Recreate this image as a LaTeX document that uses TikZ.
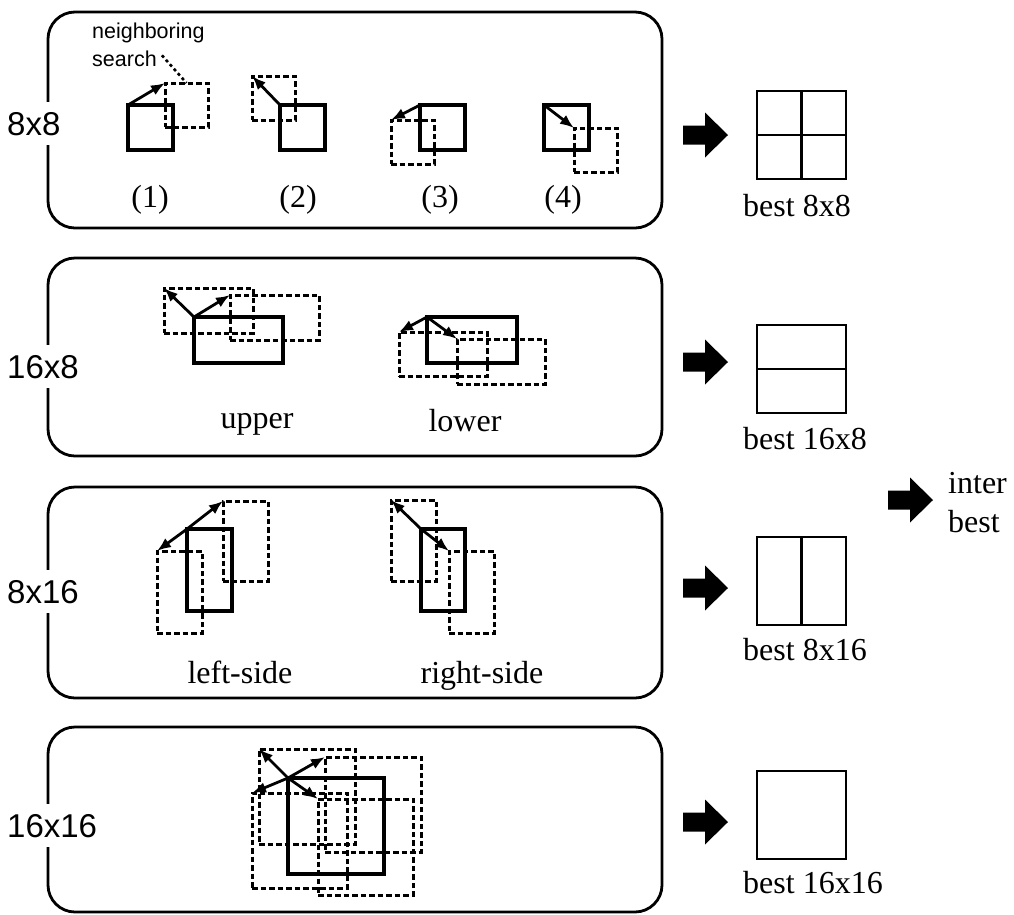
\documentclass[tikz,border=0pt]{standalone}
\usepackage{fontspec}
\setmainfont{Liberation Serif}
\setsansfont{Liberation Sans}
\usetikzlibrary{arrows.meta}

\tikzset{
  panel/.style={draw, line width=2.8pt, rounded corners=27pt},
  blk/.style={draw, line width=4.6pt, inner sep=0pt, outer sep=0pt, anchor=north west},
  cand/.style={draw, line width=3pt, dash pattern=on 5.5pt off 3pt, inner sep=0pt, outer sep=0pt, anchor=north west},
  mv/.style={line width=2.8pt, -{Latex[length=14pt,width=11pt]}},
  leader/.style={line width=2.6pt, dash pattern=on 3pt off 3pt},
  bestbox/.style={draw, line width=2.8pt, inner sep=0pt, outer sep=0pt, anchor=north west, minimum width=89pt, minimum height=88pt},
  split/.style={line width=2.8pt},
  sizelbl/.style={font=\sffamily\fontsize{33}{38}\selectfont, fill=white, inner xsep=2pt, inner ysep=10pt, anchor=base west},
  smalllbl/.style={font=\sffamily\fontsize{21.5}{26}\selectfont, inner sep=0pt, anchor=base west},
  caption/.style={font=\fontsize{32}{38}\selectfont, inner sep=0pt, anchor=base},
  bestlbl/.style={font=\fontsize{32}{38}\selectfont, inner sep=0pt, anchor=base west},
  fat/.pic={\fill (0,-9.5) -- (22,-9.5) -- (22,-22.5) -- (45,0) -- (22,22.5) -- (22,9.5) -- (0,9.5) -- cycle;}
}

\begin{document}
\begin{tikzpicture}[x=1pt,y=-1pt]
\useasboundingbox (0,0) rectangle (1014,914);

% ---------- panel frames ----------
\draw[panel] (48,12) rectangle (662,228);
\draw[panel] (48,258) rectangle (662,456);
\draw[panel] (48,487) rectangle (662,698);
\draw[panel] (48,727) rectangle (662,912);

% ---------- block size labels ----------
\node[sizelbl] (l88)   at (5,135) {8x8};
\node[sizelbl] (l168)  at (5,378) {16x8};
\node[sizelbl] (l816)  at (5,603) {8x16};
\node[sizelbl] (l1616) at (5,837) {16x16};

% ---------- 8x8: four neighbouring searches ----------
\node[cand, minimum width=43pt, minimum height=44pt] (d1) at (165,83) {};
\node[cand, minimum width=43pt, minimum height=44pt] (d2) at (252,76) {};
\node[cand, minimum width=43pt, minimum height=44pt] (d3) at (391,120) {};
\node[cand, minimum width=43pt, minimum height=44pt] (d4) at (574,128) {};
\node[blk, minimum width=45pt, minimum height=45pt] (s1) at (128,105) {};
\node[blk, minimum width=45pt, minimum height=45pt] (s2) at (280,105) {};
\node[blk, minimum width=45pt, minimum height=45pt] (s3) at (420,105) {};
\node[blk, minimum width=45pt, minimum height=45pt] (s4) at (544,105) {};
\draw[mv] (s1.north west) -- (d1.north west);
\draw[mv] (s2.north west) -- (d2.north west);
\draw[mv] (s3.north west) -- (d3.north west);
\draw[mv] (s4.north west) -- (d4.north west);

\node[smalllbl] (ns1) at (92,38) {neighboring};
\node[smalllbl] (ns2) at (92,66) {search};
\draw[leader] ([xshift=5pt,yshift=3pt]ns2.east) -- (d1.north);

\node[caption] (c1) at (150,207) {(1)};
\node[caption] (c2) at (298,207) {(2)};
\node[caption] (c3) at (440,207) {(3)};
\node[caption] (c4) at (563,207) {(4)};

% ---------- 16x8: upper / lower ----------
\node[cand, minimum width=89pt, minimum height=45pt] (d5a) at (164,288) {};
\node[cand, minimum width=89pt, minimum height=45pt] (d5b) at (230,295) {};
\node[blk, minimum width=89pt, minimum height=46pt] (s5) at (194,317) {};
\draw[mv] (s5.north west) -- (d5a.north west);
\draw[mv] (s5.north west) -- (d5b.north west);

\node[cand, minimum width=88pt, minimum height=44pt] (d6a) at (399,332) {};
\node[cand, minimum width=88pt, minimum height=45pt] (d6b) at (457,339) {};
\node[blk, minimum width=90pt, minimum height=46pt] (s6) at (427,317) {};
\draw[mv] (s6.north west) -- (d6a.north west);
\draw[mv] (s6.north west) -- (d6b.north west);

\node[caption] (cu) at (257,428) {upper};
\node[caption] (cl) at (465,431) {lower};

% ---------- 8x16: left-side / right-side ----------
\node[cand, minimum width=45pt, minimum height=82pt] (d7a) at (157,551) {};
\node[cand, minimum width=45pt, minimum height=80pt] (d7b) at (223,501) {};
\node[blk, minimum width=45pt, minimum height=82pt] (s7) at (187,529) {};
\draw[mv] (s7.north west) -- (d7a.north west);
\draw[mv] (s7.north west) -- (d7b.north west);

\node[cand, minimum width=45pt, minimum height=81pt] (d8a) at (391,500) {};
\node[cand, minimum width=45pt, minimum height=82pt] (d8b) at (449,551) {};
\node[blk, minimum width=44pt, minimum height=82pt] (s8) at (421,529) {};
\draw[mv] (s8.north west) -- (d8a.north west);
\draw[mv] (s8.north west) -- (d8b.north west);

\node[caption] (cls) at (240,683) {left-side};
\node[caption] (crs) at (482,683) {right-side};

% ---------- 16x16 ----------
\node[cand, minimum width=96pt, minimum height=95pt] (d9a) at (259,749) {};
\node[cand, minimum width=96pt, minimum height=95pt] (d9b) at (325,757) {};
\node[cand, minimum width=95pt, minimum height=95pt] (d9c) at (252,793) {};
\node[cand, minimum width=95pt, minimum height=96pt] (d9d) at (318,799) {};
\node[blk, minimum width=96pt, minimum height=96pt] (s9) at (288,778) {};
\draw[mv] (s9.north west) -- (d9a.north west);
\draw[mv] (s9.north west) -- (d9b.north west);
\draw[mv] (s9.north west) -- (d9c.north west);
\draw[mv] (s9.north west) -- (d9d.north west);

% ---------- results ----------
\pic at (683,135) {fat};
\pic at (683,362) {fat};
\pic at (683,588) {fat};
\pic at (683,822) {fat};

\node[bestbox] (b1) at (757,91) {};
\draw[split] (b1.north) -- (b1.south);
\draw[split] (b1.west) -- (b1.east);
\node[bestbox] (b2) at (757,325) {};
\draw[split] (b2.west) -- (b2.east);
\node[bestbox] (b3) at (757,537) {};
\draw[split] (b3.north) -- (b3.south);
\node[bestbox] (b4) at (757,771) {};

\node[bestlbl] (t1) at (743,216) {best 8x8};
\node[bestlbl] (t2) at (743,449) {best 16x8};
\node[bestlbl] (t3) at (743,660) {best 8x16};
\node[bestlbl] (t4) at (743,893) {best 16x16};

\pic at (888,500) {fat};
\node[bestlbl] (ib1) at (948,493) {inter};
\node[bestlbl] (ib2) at (948,532) {best};

\end{tikzpicture}
\end{document}
